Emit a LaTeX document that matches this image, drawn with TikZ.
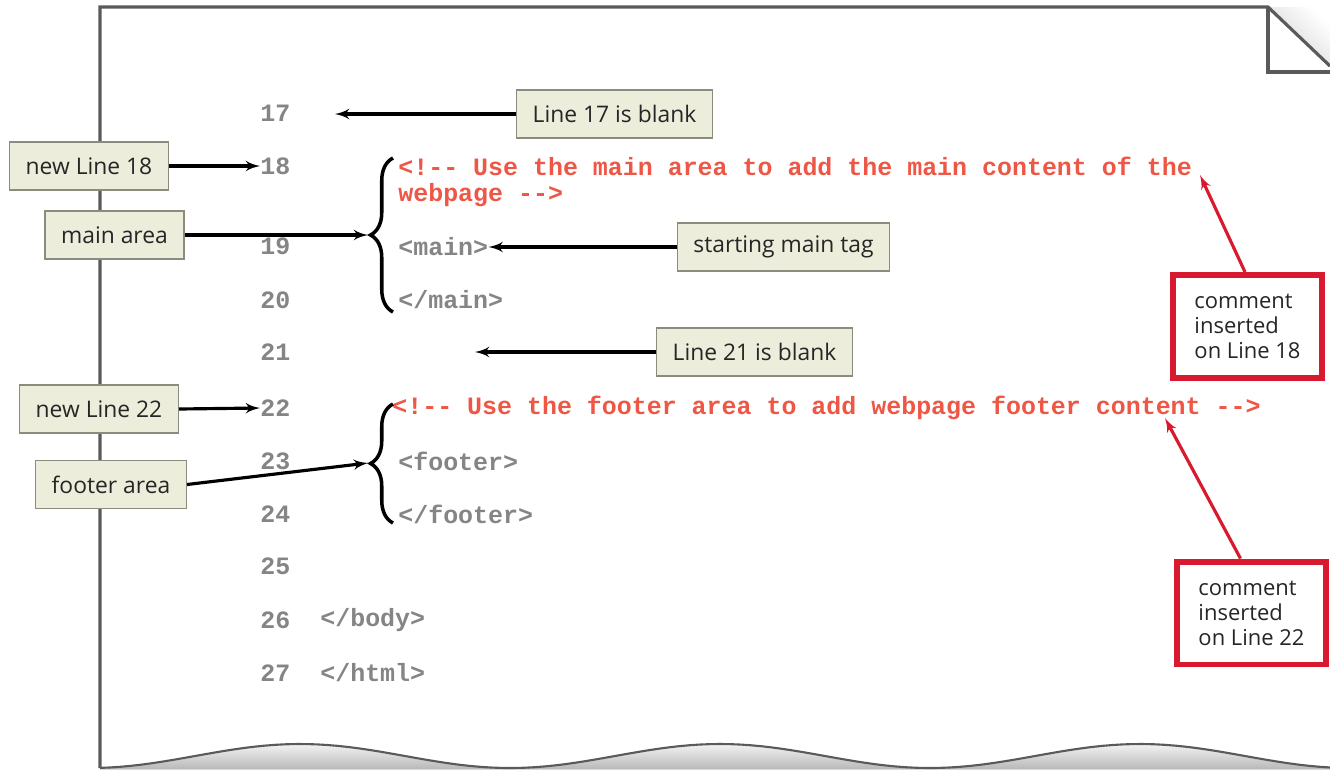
\documentclass[tikz,border=0pt]{standalone}
\usepackage{fontspec}
\setmainfont{Open Sans}
\newfontfamily\codefont{Liberation Mono}
\usetikzlibrary{arrows,decorations.pathreplacing}
\definecolor{labelfill}{HTML}{EDEDDC}
\definecolor{labeldraw}{HTML}{8C8C7E}
\definecolor{notered}{HTML}{D8192E}
\definecolor{codered}{HTML}{EE5746}
\definecolor{codegray}{HTML}{858585}
\definecolor{pageedge}{HTML}{5A5A5A}

\begin{document}
\begin{tikzpicture}
                [
                x=0.02cm, y=-0.02cm,
                lbl/.style={draw=labeldraw, fill=labelfill, thick, minimum height=0.96cm, inner xsep=0.32cm, text=black!85, font=\fontsize{13}{15}\selectfont},
                note/.style={draw=notered, line width=3.4pt, fill=white, align=left, minimum width=2.98cm, minimum height=2.06cm, text=black!85, font=\fontsize{12.5}{14.2}\selectfont},
                num/.style={anchor=west, inner sep=0pt, text=codegray, font=\codefont\bfseries\fontsize{14.2}{16}\selectfont},
                cmt/.style={num, text=codered},
                brace/.style={decorate, decoration={brace, amplitude=0.45cm}, line width=2pt},
                edge/.style={->, > = latex', line width=1.8pt},
                redge/.style={edge, draw=notered}
                ]
            \fill[white] (0,0) rectangle (1330,769);
            \useasboundingbox (0,0) rectangle (1330,769);
            % the page
            \fill[top color=gray!10, bottom color=gray!55] plot[domain=100:1330, samples=120] (\x,{756-12*cos(0.857143*(\x-300))}) -- (1330,769) -- (100,769) -- cycle;
            \draw[pageedge, line width=1.2pt] plot[domain=100:1330, samples=120] (\x,{756-12*cos(0.857143*(\x-300))});
            \shade[top color=white, bottom color=gray!35, shading angle=-45] (1268,7) -- (1330,7) -- (1330,66) -- cycle;
            \draw[pageedge, line width=1.8pt] (100,768) -- (100,7) -- (1268,7) -- (1330,66);
            \draw[pageedge, line width=1.8pt] (1268,7) -- (1268,72) -- (1330,72);
            % line numbers
            \foreach \n/\y in {17/113, 18/166, 19/246, 20/300, 21/352, 22/408, 23/461, 24/514, 25/566, 26/620, 27/673}
                \node[num] (n\n) at (260,\y) {\n};
            % code
            \node[cmt] (c18a) at (398,166) {<!-{}- Use the main area to add the main content of the};
            \node[cmt] (c18b) at (398,195) {webpage -{}->};
            \node[num] (c19) at (398,247) {<main>};
            \node[num] (c20) at (398,300) {</main>};
            \node[cmt] (c22) at (392,408) {<!-{}- Use the footer area to add webpage footer content -{}->};
            \node[num] (c23) at (398,461) {<footer>};
            \node[num] (c24) at (398,514) {</footer>};
            \node[num] (c26) at (320,620) {</body>};
            \node[num] (c27) at (320,673) {</html>};
            \draw[brace] (393,312) -- (393,158);
            \draw[brace] (393,523) -- (393,404);
            % labels
            \node[lbl] (blank17) at (614.5,114) {Line 17 is blank};
            \node[lbl] (new18) at (89,166) {new Line 18};
            \node[lbl] (mainarea) at (114.5,235) {main area};
            \node[lbl] (maintag) at (783.5,247) {starting main tag};
            \node[lbl] (blank21) at (754.5,352) {Line 21 is blank};
            \node[lbl] (new22) at (99,409) {new Line 22};
            \node[lbl] (footarea) at (111,484.5) {footer area};
            \node[note] (note18) at (1247.5,326.5) {comment\\inserted\\on Line 18};
            \node[note] (note22) at (1251.5,613) {comment\\inserted\\on Line 22};
            \coordinate (e17) at (335,114);
            \coordinate (e21) at (475,352);
            \coordinate (br1) at (368,235);
            \coordinate (br2) at (368,463);
            \coordinate (t18) at (1200,175);
            \coordinate (t22) at (1165,418);
            \draw[edge] (blank17) -- (e17);
            \draw[edge] (new18.east) -- (n18.west);
            \draw[edge] (mainarea) -- (br1);
            \draw[edge] (maintag.west) -- (c19.east);
            \draw[edge] (blank21) -- (e21);
            \draw[edge] (new22.east) -- (n22.west);
            \draw[edge] (footarea.east) -- (br2);
            \draw[redge] ([xshift=-0.05cm]note18.north) -- (t18);
            \draw[redge] ([xshift=-0.22cm]note22.north) -- (t22);
            \end{tikzpicture}
\end{document}
